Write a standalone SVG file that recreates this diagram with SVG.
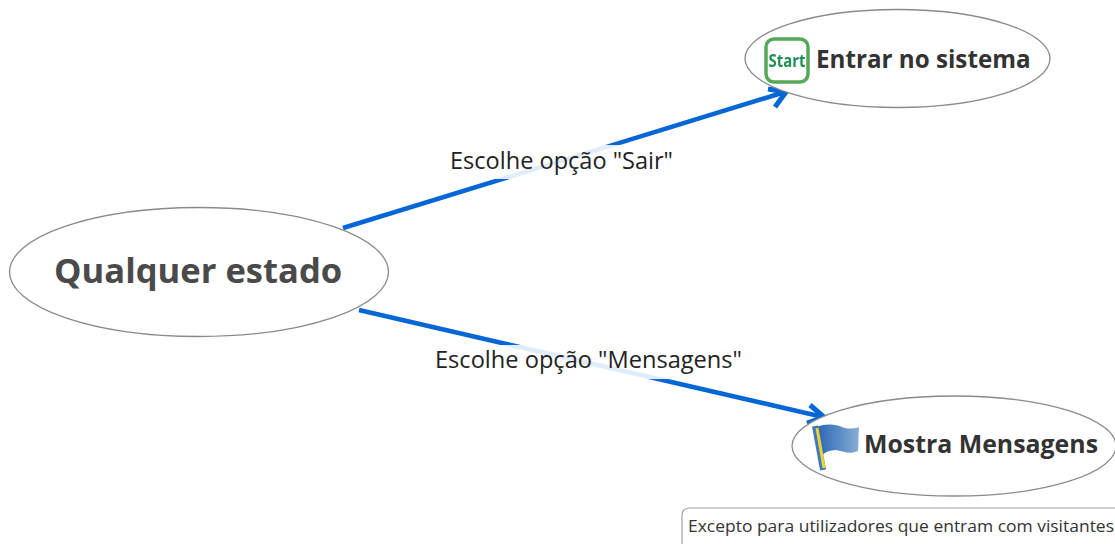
<svg xmlns="http://www.w3.org/2000/svg" width="1115" height="544" viewBox="0 0 1115 544">
<style>
.n{fill:#fff;stroke:#8a8a8a;stroke-width:1.3}
.t{font-family:"Open Sans","Noto Sans","Liberation Sans",sans-serif;font-weight:700}
.l{font-family:"Open Sans","Noto Sans","Liberation Sans",sans-serif;fill:#222;font-size:23px}
.c{fill:none;stroke:#0566d6;stroke-width:4.500}
.h{fill:none;stroke:#0566d6;stroke-width:5}
</style>
<defs><filter id="b" x="-10%" y="-10%" width="120%" height="120%"><feGaussianBlur stdDeviation="0.6"/></filter>
<linearGradient id="f" x1="0" x2="1" y1="0" y2="0"><stop offset="0" stop-color="#2560b0"/><stop offset="1" stop-color="#86aed6"/></linearGradient></defs>
<g id="connectors">
<path class="c" d="M343 228L785 92"/>
<path class="h" d="M768 89L786 92L775 107"/>
<path class="c" d="M359 310L823 417"/>
<path class="h" d="M810 405L824 417L807 423"/>
<rect x="440" y="145" width="245" height="34" fill="#fff" fill-opacity="0.88"/>
<rect x="430" y="345" width="320" height="34" fill="#fff" fill-opacity="0.88"/>
<text class="l" x="450" y="169" textLength="223" lengthAdjust="spacingAndGlyphs">Escolhe opção "Sair"</text>
<text class="l" x="435" y="368" textLength="307" lengthAdjust="spacingAndGlyphs">Escolhe opção "Mensagens"</text>
</g>
<g id="node-qualquer">
<ellipse class="n" cx="199" cy="272" rx="189.500" ry="64.500"/>
<text class="t" x="54" y="283" font-size="34.600" fill="#4a4a4a">Qualquer estado</text>
</g>
<g id="node-entrar">
<ellipse class="n" cx="897.500" cy="58.500" rx="152.500" ry="49"/>
<g filter="url(#b)">
<rect x="766" y="39" width="42" height="43" rx="8" fill="#fff" stroke="#55a855" stroke-width="3.500"/>
<text x="787" y="67" text-anchor="middle" font-family="Open Sans,sans-serif" font-weight="700" font-size="17" fill="#1f8f55" textLength="37" lengthAdjust="spacingAndGlyphs">Start</text>
</g>
<text class="t" x="816" y="68" font-size="24.200" fill="#333">Entrar no sistema</text>
</g>
<g id="node-mostra">
<ellipse class="n" cx="954" cy="446" rx="162" ry="50"/>
<g filter="url(#b)">
<path d="M814 428C824 423 836 424 842 427C848 429 853 429 859 427L858 451C850 455 842 451 836 450C830 450 825 452 821 456Z" fill="url(#f)"/>
<path d="M815 426L823 470" stroke="#3f78b8" stroke-width="6" fill="none"/>
<path d="M817 428L824 468" stroke="#ecd437" stroke-width="3" fill="none"/>
</g>
<text class="t" x="864" y="453" font-size="24.600" fill="#333" textLength="234" lengthAdjust="spacingAndGlyphs">Mostra Mensagens</text>
</g>
<g id="note">
<path d="M1115 508H690Q682 508 682 516V544" fill="#fff" stroke="#a0a0a0" stroke-width="1.200"/>
<text x="688" y="532" font-family="Open Sans,sans-serif" font-size="17" fill="#333" textLength="426" lengthAdjust="spacingAndGlyphs">Excepto para utilizadores que entram com visitantes</text>
</g>
</svg>
